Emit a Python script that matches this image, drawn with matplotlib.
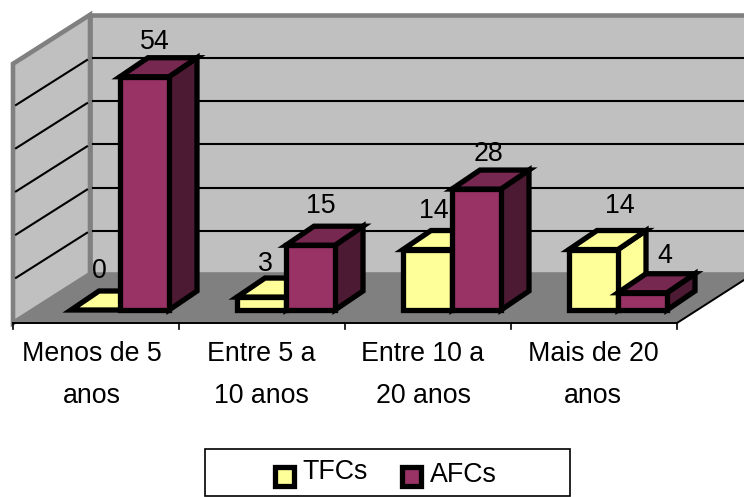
import matplotlib
matplotlib.use("Agg")
import matplotlib.pyplot as plt
from matplotlib.patches import Polygon, Rectangle

plt.rcParams['font.family'] = ['Liberation Sans', 'DejaVu Sans']

# Chart values
categories = ["Menos de 5\nanos", "Entre 5 a\n10 anos", "Entre 10 a\n20 anos", "Mais de 20\nanos"]
tfcs = [0, 3, 14, 14]
afcs = [54, 15, 28, 4]
grid_values = [10, 20, 30, 40, 50]

# Layout of the fake 3D box, in pixels
PX_PER_UNIT = 4.32
AXIS_MAX = 60
FRONT_X0, FRONT_X1, FRONT_Y = 13, 677, 323
BACK_X0, BACK_Y = 90, 274
RIGHT = 744
CAT_W = (FRONT_X1 - FRONT_X0) / len(categories)
BAR_W = 49
BAR_BASE = 310
DX, DY = 28, 19
FONT = 19.3
EDGE = 3.8

YELLOW = ("#FFFF99", "#FFFF99", "#FFFF99")
MAROON = ("#993366", "#772850", "#4D1A33")

fig = plt.figure(figsize=(7.44, 4.97), dpi=100)
ax = fig.add_axes([0, 0, 1, 1])
ax.set_xlim(0, 744)
ax.set_ylim(497, 0)
ax.axis("off")


def draw_bar(ax, x, value, colors, z):
    top = BAR_BASE - value * PX_PER_UNIT
    kw = dict(edgecolor="black", linewidth=EDGE, joinstyle="miter", zorder=z)
    if value > 0:
        ax.add_patch(Polygon([(x + BAR_W, top), (x + BAR_W + DX, top - DY),
                              (x + BAR_W + DX, BAR_BASE - DY), (x + BAR_W, BAR_BASE)],
                             facecolor=colors[2], **kw))
        ax.add_patch(Rectangle((x, top), BAR_W, BAR_BASE - top, facecolor=colors[0], **kw))
    ax.add_patch(Polygon([(x, top), (x + DX, top - DY), (x + BAR_W + DX, top - DY), (x + BAR_W, top)],
                         facecolor=colors[1], **kw))


# Walls and floor
back_top = BACK_Y - AXIS_MAX * PX_PER_UNIT
ax.add_patch(Polygon([(BACK_X0, back_top), (RIGHT + 5, back_top), (RIGHT + 5, BACK_Y), (BACK_X0, BACK_Y)],
                     facecolor="#C0C0C0", edgecolor="#808080", linewidth=3.3, zorder=1))
ax.add_patch(Polygon([(FRONT_X0, FRONT_Y - AXIS_MAX * PX_PER_UNIT), (BACK_X0, back_top),
                      (BACK_X0, BACK_Y), (FRONT_X0, FRONT_Y)],
                     facecolor="#C0C0C0", edgecolor="#808080", linewidth=3.3, zorder=2))
ax.add_patch(Polygon([(FRONT_X0, FRONT_Y), (BACK_X0, BACK_Y), (RIGHT, BACK_Y), (RIGHT, 280), (FRONT_X1, FRONT_Y)],
                     facecolor="#808080", edgecolor="none", zorder=2))

# Gridlines on back and side wall
for v in grid_values:
    y = BACK_Y - v * PX_PER_UNIT
    ax.plot([BACK_X0 + 3, RIGHT], [y, y], color="black", lw=1.5, zorder=3)
    ax.plot([FRONT_X0 + 3, BACK_X0 - 3], [y + 47, y + 2], color="black", lw=1.5, zorder=3)

# Front edges and ticks
ax.plot([FRONT_X0, FRONT_X1, RIGHT], [FRONT_Y, FRONT_Y, 280], color="black", lw=1.4, zorder=3)
for i in range(len(categories) + 1):
    x = FRONT_X0 + i * CAT_W
    ax.plot([x, x], [FRONT_Y, FRONT_Y + 6], color="black", lw=1.2, zorder=3)

# Bars and value labels
label_nudge_tfc = [(-10, -4), (-10, 2), (-8, -4), (12, -9)]
label_nudge_afc = [(-4, 0), (-4, -4), (-2, 0), (8, -2)]
cat_nudge = [-4, -1, -5, -1]
for i, cat in enumerate(categories):
    center = FRONT_X0 + (i + 0.5) * CAT_W + 24
    for j, (vals, colors, nudge) in enumerate([(tfcs, YELLOW, label_nudge_tfc), (afcs, MAROON, label_nudge_afc)]):
        x = center - BAR_W + j * BAR_W
        draw_bar(ax, x, vals[i], colors, 5 + j)
        top = BAR_BASE - vals[i] * PX_PER_UNIT - DY
        ax.text(x + BAR_W / 2 + DX / 2 + nudge[i][0], top - 16 + nudge[i][1], str(vals[i]),
                ha="center", va="center", fontsize=FONT, color="black", zorder=8)
    ax.text(FRONT_X0 + (i + 0.5) * CAT_W + cat_nudge[i], 375, cat, ha="center", va="center",
            fontsize=FONT, linespacing=1.78, color="black", zorder=8)

# Legend box
ax.add_patch(Rectangle((205, 449), 365, 47, facecolor="white", edgecolor="black", linewidth=1.2, zorder=8))
for name, lx, ly, colors, tx, ty in [("TFCs", 275, 467, YELLOW, 302, 472), ("AFCs", 402, 467, MAROON, 430, 475)]:
    ax.add_patch(Rectangle((lx, ly), 19, 19, facecolor=colors[0], edgecolor="black", linewidth=EDGE, zorder=9))
    ax.text(tx, ty, name, ha="left", va="center", fontsize=FONT, color="black", zorder=9)

fig.savefig("out.png", dpi=100)
